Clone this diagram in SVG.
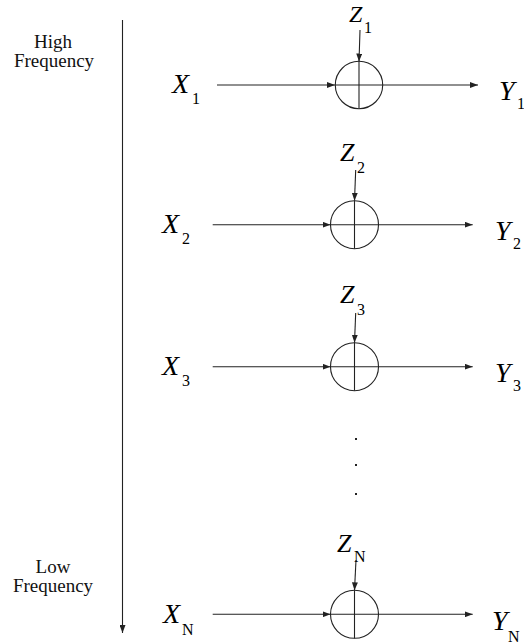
<svg xmlns="http://www.w3.org/2000/svg" width="524" height="643" viewBox="0 0 524 643">
<defs>
<marker id="ah" viewBox="0 0 8 6" refX="8" refY="3" markerWidth="8" markerHeight="6" markerUnits="userSpaceOnUse" orient="auto">
<path d="M0,0 L8,3 L0,6 Z" fill="#222"/>
</marker>
</defs>
<style>
.ln{stroke:#222;stroke-width:1.1;fill:none}
.ar{stroke:#222;stroke-width:1.1;fill:none;marker-end:url(#ah)}
.sum{stroke:#222;stroke-width:1.1;fill:none}
text{font-family:'Liberation Serif','Times New Roman','DejaVu Serif',serif;fill:#000}
.v{font-style:italic;font-size:28px}
.vz{font-style:italic;font-size:26px}
.vz1{font-style:italic;font-size:24px}
.vy{font-style:italic;font-size:28px}
.sb{font-size:16px}
.lb{font-size:19px;text-anchor:middle;fill:#111}
</style>
<rect width="524" height="643" fill="#fff"/>
<g id="axis">
<line class="ar" x1="122.5" y1="20" x2="122.5" y2="633"/>
<text class="lb" x="53" y="48">High</text>
<text class="lb" x="54" y="67">Frequency</text>
<text class="lb" x="53" y="573">Low</text>
<text class="lb" x="53" y="592">Frequency</text>
</g>
<g id="connectors">
<line class="ar" x1="217" y1="85" x2="335" y2="85"/>
<line class="ar" x1="383" y1="85" x2="478" y2="85"/>
<line class="ar" x1="360" y1="30" x2="359" y2="61.5"/>
<line class="ar" x1="212.7" y1="224.7" x2="330.5" y2="224.7"/>
<line class="ar" x1="378.5" y1="224.7" x2="472.7" y2="224.7"/>
<line class="ar" x1="355.7" y1="170" x2="354.5" y2="200.7"/>
<line class="ar" x1="212.7" y1="366.7" x2="330.5" y2="366.7"/>
<line class="ar" x1="378.5" y1="366.7" x2="472.7" y2="366.7"/>
<line class="ar" x1="355.7" y1="313" x2="354.5" y2="342.7"/>
<line class="ar" x1="212.7" y1="614.3" x2="330.5" y2="614.3"/>
<line class="ar" x1="378.5" y1="614.3" x2="472.7" y2="614.3"/>
<line class="ar" x1="356" y1="560" x2="354.5" y2="590.3"/>
</g>
<g id="sum1">
<circle class="sum" cx="359" cy="85" r="23.7"/>
<line class="ln" x1="335.3" y1="85" x2="382.7" y2="85"/>
<line class="ln" x1="359" y1="61.3" x2="359" y2="108.7"/>
</g>
<g id="sum2">
<circle class="sum" cx="354.5" cy="224.7" r="24"/>
<line class="ln" x1="330.5" y1="224.7" x2="378.5" y2="224.7"/>
<line class="ln" x1="354.5" y1="200.7" x2="354.5" y2="248.7"/>
</g>
<g id="sum3">
<circle class="sum" cx="354.5" cy="366.7" r="24"/>
<line class="ln" x1="330.5" y1="366.7" x2="378.5" y2="366.7"/>
<line class="ln" x1="354.5" y1="342.7" x2="354.5" y2="390.7"/>
</g>
<g id="sumN">
<circle class="sum" cx="354.5" cy="614.3" r="24"/>
<line class="ln" x1="330.5" y1="614.3" x2="378.5" y2="614.3"/>
<line class="ln" x1="354.5" y1="590.3" x2="354.5" y2="638.3"/>
</g>
<g id="dots" fill="#222">
<rect x="355" y="438" width="2" height="2"/>
<rect x="355" y="464" width="2" height="2"/>
<rect x="355" y="493" width="2" height="2"/>
</g>
<g id="labels">
<text class="v" x="172" y="93.3">X</text><text class="sb" x="192" y="104.3">1</text>
<text class="vz1" x="349" y="22">Z</text><text class="sb" x="364" y="33">1</text>
<text class="vy" x="499" y="99.5">Y</text><text class="sb" x="517" y="109">1</text>

<text class="v" x="162" y="233">X</text><text class="sb" x="182" y="244">2</text>
<text class="vz" x="340" y="160.5">Z</text><text class="sb" x="357" y="172.5">2</text>
<text class="vy" x="495" y="240">Y</text><text class="sb" x="513" y="249">2</text>

<text class="v" x="162" y="375">X</text><text class="sb" x="182" y="386">3</text>
<text class="vz" x="340" y="303">Z</text><text class="sb" x="357" y="315">3</text>
<text class="vy" x="495" y="382">Y</text><text class="sb" x="513" y="391">3</text>

<text class="v" x="163" y="623">X</text><text class="sb" x="182" y="635">N</text>
<text class="vz" x="337" y="551.7">Z</text><text class="sb" x="354" y="562.3">N</text>
<text class="vy" x="492" y="630">Y</text><text class="sb" x="508" y="641.5">N</text>
</g>
</svg>
